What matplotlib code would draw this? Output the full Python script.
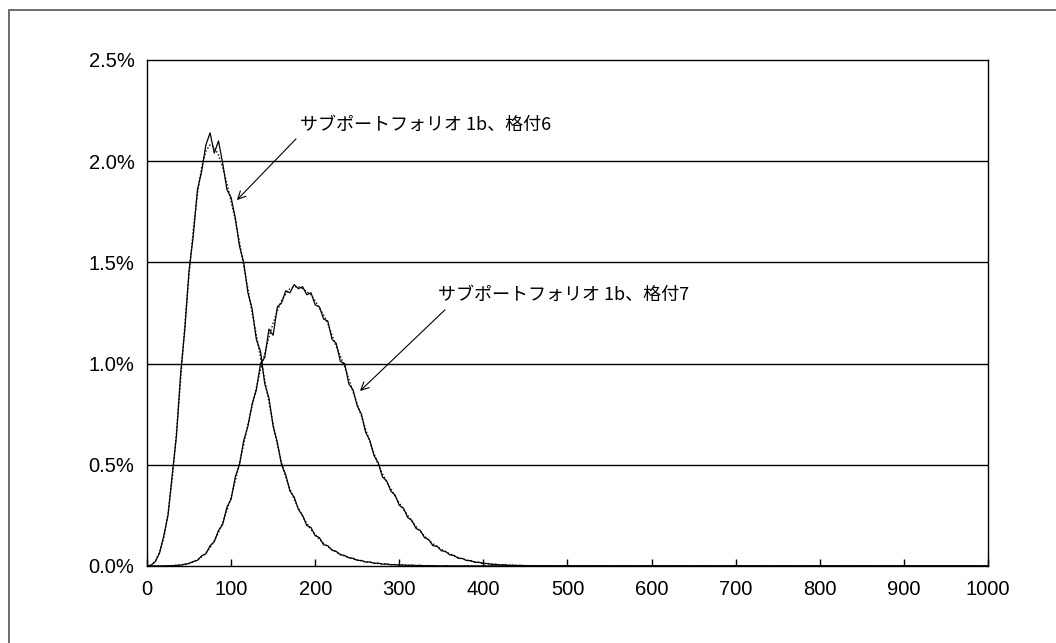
import numpy as np
import matplotlib.pyplot as plt
from matplotlib.patches import Rectangle
from matplotlib.ticker import FuncFormatter

# loss grid (step 5 up to 500, flat at zero out to 1000)
loss = list(range(0, 505, 5)) + [1000]

# sub-portfolio 1b, rating 6: simulated distribution (%) and fitted curve (%)
sim_r6 = [
    0.000, 0.004, 0.022, 0.065, 0.15, 0.25, 0.45, 0.64, 0.95, 1.17,
    1.46, 1.63, 1.86, 1.95, 2.08, 2.14, 2.04, 2.10, 1.99, 1.86,
    1.82, 1.72, 1.58, 1.50, 1.35, 1.27, 1.12, 1.06, 0.90, 0.83,
    0.69, 0.61, 0.50, 0.45, 0.37, 0.34, 0.28, 0.25, 0.20, 0.19,
    0.15, 0.14, 0.105, 0.10, 0.078, 0.072, 0.055, 0.052, 0.040, 0.038,
    0.028, 0.027, 0.019, 0.020, 0.013, 0.014, 0.009, 0.010, 0.006, 0.007,
    0.004, 0.005, 0.003, 0.004, 0.002, 0.003, 0.001, 0.002, 0.001, 0.001,
    0.0, 0.001, 0.0, 0.0, 0.0, 0.0, 0.0, 0.0, 0.0, 0.0,
    0.0, 0.0, 0.0, 0.0, 0.0, 0.0, 0.0, 0.0, 0.0, 0.0,
    0.0, 0.0, 0.0, 0.0, 0.0, 0.0, 0.0, 0.0, 0.0, 0.0,
    0.0, 0.0,
]
fit_r6 = [
    0.000, 0.005, 0.025, 0.07, 0.14, 0.26, 0.43, 0.66, 0.92, 1.19,
    1.44, 1.66, 1.84, 1.97, 2.05, 2.08, 2.07, 2.03, 1.97, 1.89,
    1.80, 1.71, 1.60, 1.48, 1.37, 1.25, 1.14, 1.03, 0.92, 0.81,
    0.70, 0.60, 0.51, 0.44, 0.38, 0.33, 0.285, 0.245, 0.21, 0.18,
    0.155, 0.132, 0.112, 0.095, 0.081, 0.069, 0.058, 0.049, 0.042, 0.035,
    0.030, 0.025, 0.021, 0.018, 0.015, 0.012, 0.010, 0.008, 0.007, 0.006,
    0.005, 0.004, 0.003, 0.003, 0.002, 0.002, 0.001, 0.001, 0.001, 0.0,
    0.0, 0.0, 0.0, 0.0, 0.0, 0.0, 0.0, 0.0, 0.0, 0.0,
    0.0, 0.0, 0.0, 0.0, 0.0, 0.0, 0.0, 0.0, 0.0, 0.0,
    0.0, 0.0, 0.0, 0.0, 0.0, 0.0, 0.0, 0.0, 0.0, 0.0,
    0.0, 0.0,
]

# sub-portfolio 1b, rating 7
sim_r7 = [
    0.0, 0.0, 0.0, 0.0, 0.0, 0.001, 0.001, 0.003, 0.004, 0.009,
    0.012, 0.022, 0.028, 0.05, 0.06, 0.10, 0.12, 0.175, 0.205, 0.29,
    0.33, 0.44, 0.50, 0.62, 0.69, 0.80, 0.87, 1.00, 1.03, 1.17,
    1.14, 1.28, 1.30, 1.36, 1.35, 1.39, 1.37, 1.38, 1.34, 1.35,
    1.29, 1.28, 1.22, 1.21, 1.12, 1.10, 1.01, 1.00, 0.90, 0.87,
    0.79, 0.75, 0.66, 0.62, 0.545, 0.51, 0.44, 0.42, 0.37, 0.35,
    0.30, 0.285, 0.24, 0.225, 0.185, 0.175, 0.14, 0.13, 0.10, 0.098,
    0.075, 0.072, 0.055, 0.052, 0.038, 0.037, 0.027, 0.026, 0.018, 0.018,
    0.012, 0.012, 0.008, 0.008, 0.005, 0.006, 0.003, 0.004, 0.002, 0.003,
    0.001, 0.002, 0.001, 0.001, 0.0, 0.001, 0.0, 0.0, 0.0, 0.0,
    0.0, 0.0,
]
fit_r7 = [
    0.0, 0.0, 0.0, 0.0, 0.001, 0.001, 0.002, 0.003, 0.005, 0.008,
    0.013, 0.02, 0.03, 0.045, 0.065, 0.09, 0.125, 0.165, 0.215, 0.275,
    0.34, 0.42, 0.51, 0.60, 0.70, 0.79, 0.88, 0.97, 1.05, 1.13,
    1.20, 1.26, 1.31, 1.345, 1.37, 1.38, 1.38, 1.37, 1.355, 1.34,
    1.31, 1.275, 1.24, 1.20, 1.14, 1.085, 1.035, 0.985, 0.925, 0.86,
    0.80, 0.74, 0.675, 0.615, 0.555, 0.50, 0.455, 0.415, 0.38, 0.345,
    0.31, 0.28, 0.25, 0.22, 0.195, 0.17, 0.148, 0.128, 0.11, 0.095,
    0.082, 0.07, 0.06, 0.05, 0.042, 0.035, 0.03, 0.025, 0.02, 0.017,
    0.014, 0.011, 0.009, 0.007, 0.006, 0.005, 0.004, 0.003, 0.003, 0.002,
    0.002, 0.001, 0.001, 0.001, 0.001, 0.0, 0.0, 0.0, 0.0, 0.0,
    0.0, 0.0,
]

label_r6 = 'サブポートフォリオ 1b、格付6'
label_r7 = 'サブポートフォリオ 1b、格付7'

plt.rcParams['font.family'] = ['Liberation Sans', 'DejaVu Sans']

fig = plt.figure(figsize=(10.56, 6.43), dpi=100)
ax = fig.add_axes([0.1392, 0.1198, 0.7964, 0.7869])

# outer chart frame
fig.patches.append(Rectangle((0.0085, -0.1), 1.2, 1.0844, transform=fig.transFigure,
                             fill=False, edgecolor='#606060', lw=1.3))

for yv in [0.5, 1.0, 1.5, 2.0]:
    ax.axhline(yv, color='black', lw=1.0, zorder=1)

ax.plot(loss, fit_r6, color='black', lw=1.0, ls=(0, (1, 1.5)), zorder=2)
ax.plot(loss, fit_r7, color='black', lw=1.0, ls=(0, (1, 1.5)), zorder=2)
ax.plot(loss, sim_r6, color='black', lw=0.9, zorder=3)
ax.plot(loss, sim_r7, color='black', lw=0.9, zorder=3)

ax.set_xlim(0, 1000)
ax.set_ylim(0, 2.5)
ax.set_xticks(range(0, 1001, 100))
ax.set_yticks([0, 0.5, 1.0, 1.5, 2.0, 2.5])
ax.yaxis.set_major_formatter(FuncFormatter(lambda v, p: f'{v:.1f}%'))
ax.tick_params(axis='x', direction='in', length=5, width=1, pad=10, labelsize=14.5)
ax.tick_params(axis='y', length=0, pad=9, labelsize=14.5)
for s in ax.spines.values():
    s.set_linewidth(1.0)
    s.set_color('black')

cjk = ['Noto Sans CJK JP', 'DejaVu Sans']
arrow = dict(arrowstyle='->', color='black', lw=0.8, mutation_scale=14)
ax.text(182, 2.18, label_r6, family=cjk, fontsize=13, va='center', ha='left')
ax.annotate('', xy=(104.6, 1.798), xytext=(179.5, 2.12), arrowprops=arrow)
ax.text(346, 1.341, label_r7, family=cjk, fontsize=13, va='center', ha='left')
ax.annotate('', xy=(250.9, 0.855), xytext=(356.7, 1.275), arrowprops=arrow)

fig.savefig('out.png', dpi=100)
